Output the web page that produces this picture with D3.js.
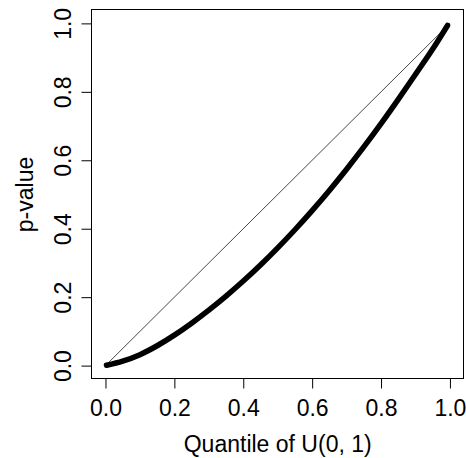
<!DOCTYPE html>
<html>
<head>
<meta charset="utf-8">
<script src="https://cdn.jsdelivr.net/npm/d3@7"></script>
<style>
  html, body { margin: 0; padding: 0; background: #fff; }
  svg { display: block; }
  text { font-family: "Liberation Sans", Arial, sans-serif; fill: #000; }
</style>
</head>
<body>
<svg id="chart" width="466" height="458"></svg>
<script>
// Data
const quantiles = [0.003, 0.05, 0.10, 0.15, 0.20, 0.25, 0.30, 0.35, 0.40, 0.45, 0.50, 0.55, 0.60, 0.65, 0.70, 0.75, 0.80, 0.85, 0.90, 0.95, 0.993];
const pvalues   = [0.001, 0.013, 0.032, 0.058, 0.089, 0.124, 0.162, 0.203, 0.247, 0.294, 0.344, 0.397, 0.453, 0.512, 0.574, 0.639, 0.707, 0.778, 0.851, 0.925, 0.994];
const refLine = [[0, 0], [1, 1]];
const xTicks = [0, 0.2, 0.4, 0.6, 0.8, 1.0];
const yTicks = [0, 0.2, 0.4, 0.6, 0.8, 1.0];
const xTitle = "Quantile of U(0, 1)";
const yTitle = "p-value";

(function () {
const svg = d3.select("#chart");
const pl = 91.7, pr = 463.7, pt = 9.7, pb = 379.3;
const x = d3.scaleLinear().domain([-0.04, 1.04]).range([pl, pr]);
const y = d3.scaleLinear().domain([-0.04, 1.04]).range([pb, pt]);
const fs = 23;

// reference diagonal
svg.append("path")
  .attr("d", d3.line().x(d => x(d[0])).y(d => y(d[1]))(refLine))
  .attr("fill", "none").attr("stroke", "#333").attr("stroke-width", 0.9);

// data curve
const pts = quantiles.map((q, i) => [q, pvalues[i]]);
svg.append("path")
  .attr("d", d3.line().x(d => x(d[0])).y(d => y(d[1])).curve(d3.curveMonotoneX)(pts))
  .attr("fill", "none").attr("stroke", "#000").attr("stroke-width", 5.5)
  .attr("stroke-linecap", "round").attr("stroke-linejoin", "round");

// box
svg.append("rect")
  .attr("x", Math.round(pl) - 0.5).attr("y", Math.round(pt) - 0.5)
  .attr("width", Math.round(pr) - Math.round(pl)).attr("height", Math.round(pb) - Math.round(pt))
  .attr("fill", "none").attr("stroke", "#000").attr("stroke-width", 1);

// x axis
const xAxis = d3.axisBottom(x).tickValues(xTicks).tickFormat(d3.format(".1f")).tickSize(10).tickPadding(11);
const gx = svg.append("g").attr("transform", `translate(0,${Math.round(pb) - 0.5})`).call(xAxis);
gx.select(".domain").attr("d", `M${x(0)},0H${x(1)}`).attr("stroke", "#000");
gx.selectAll(".tick line").attr("stroke", "#000");
gx.selectAll(".tick text").attr("font-size", fs).attr("font-family", "Liberation Sans, Arial, sans-serif").attr("fill", "#000");

// y axis
const yAxis = d3.axisLeft(y).tickValues(yTicks).tickFormat(d3.format(".1f")).tickSize(10).tickPadding(9);
const gy = svg.append("g").attr("transform", `translate(${Math.round(pl) - 0.5},0)`).call(yAxis);
gy.select(".domain").attr("d", `M0,${y(0)}V${y(1)}`).attr("stroke", "#000");
gy.selectAll(".tick line").attr("stroke", "#000");
gy.selectAll(".tick text")
  .attr("font-size", fs).attr("font-family", "Liberation Sans, Arial, sans-serif").attr("fill", "#000")
  .attr("x", null).attr("dy", null)
  .attr("text-anchor", "middle")
  .attr("transform", "translate(-21,0) rotate(-90)");

// titles
svg.append("text").attr("x", (pl + pr) / 2).attr("y", 452)
  .attr("text-anchor", "middle").attr("font-size", fs).text(xTitle);
svg.append("text").attr("transform", `translate(33,${(pt + pb) / 2}) rotate(-90)`)
  .attr("text-anchor", "middle").attr("font-size", fs).text(yTitle);
})();
</script>
</body>
</html>
